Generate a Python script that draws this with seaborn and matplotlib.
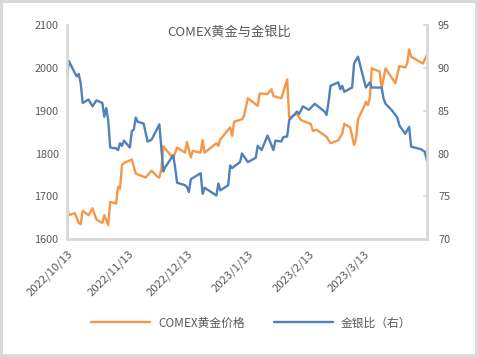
import pandas as pd
import numpy as np
import matplotlib
matplotlib.use("Agg")
import matplotlib.pyplot as plt
import seaborn as sns

# COMEX gold price (left axis)
gold_dates = ["2022-10-13", "2022-10-14", "2022-10-17", "2022-10-19", "2022-10-20", "2022-10-21",
              "2022-10-24", "2022-10-26", "2022-10-28", "2022-10-31", "2022-11-01", "2022-11-03",
              "2022-11-04", "2022-11-07", "2022-11-08", "2022-11-09", "2022-11-10", "2022-11-11",
              "2022-11-15", "2022-11-17", "2022-11-22", "2022-11-25", "2022-11-28", "2022-11-29",
              "2022-11-30", "2022-12-01", "2022-12-06", "2022-12-08", "2022-12-12", "2022-12-13",
              "2022-12-15", "2022-12-16", "2022-12-20", "2022-12-21", "2022-12-22", "2022-12-28",
              "2022-12-29", "2022-12-30", "2023-01-04", "2023-01-05", "2023-01-06", "2023-01-10",
              "2023-01-11", "2023-01-13", "2023-01-18", "2023-01-19", "2023-01-23", "2023-01-25",
              "2023-01-26", "2023-01-30", "2023-02-02", "2023-02-03", "2023-02-07", "2023-02-09",
              "2023-02-14", "2023-02-15", "2023-02-17", "2023-02-22", "2023-02-24", "2023-02-28",
              "2023-03-02", "2023-03-03", "2023-03-06", "2023-03-08", "2023-03-09", "2023-03-10",
              "2023-03-13", "2023-03-14", "2023-03-15", "2023-03-16", "2023-03-17", "2023-03-21",
              "2023-03-22", "2023-03-24", "2023-03-29", "2023-03-31", "2023-04-03", "2023-04-04",
              "2023-04-05", "2023-04-06", "2023-04-12", "2023-04-14"]
gold_price = [1679, 1656, 1661, 1638, 1635, 1666,
              1656, 1672, 1646, 1638, 1656, 1633,
              1687, 1683, 1722, 1718, 1773, 1778,
              1786, 1753, 1744, 1760, 1746, 1744,
              1762, 1817, 1789, 1814, 1802, 1827,
              1791, 1806, 1802, 1831, 1802, 1824,
              1818, 1833, 1861, 1841, 1874, 1880,
              1887, 1929, 1911, 1940, 1939, 1950,
              1934, 1929, 1973, 1884, 1892, 1878,
              1869, 1853, 1855, 1839, 1824, 1831,
              1847, 1869, 1861, 1820, 1835, 1880,
              1909, 1921, 1913, 1929, 1999, 1991,
              1952, 1999, 1964, 2004, 2001, 2010,
              2043, 2026, 2010, 2030]

# gold/silver ratio (right axis)
ratio_dates = ["2022-10-13", "2022-10-14", "2022-10-17", "2022-10-18", "2022-10-19", "2022-10-20",
               "2022-10-21", "2022-10-24", "2022-10-26", "2022-10-28", "2022-10-31", "2022-11-01",
               "2022-11-02", "2022-11-03", "2022-11-04", "2022-11-07", "2022-11-08", "2022-11-09",
               "2022-11-10", "2022-11-11", "2022-11-14", "2022-11-15", "2022-11-16", "2022-11-17",
               "2022-11-18", "2022-11-21", "2022-11-23", "2022-11-25", "2022-11-29", "2022-12-01",
               "2022-12-02", "2022-12-06", "2022-12-07", "2022-12-08", "2022-12-12", "2022-12-13",
               "2022-12-14", "2022-12-15", "2022-12-20", "2022-12-21", "2022-12-22", "2022-12-28",
               "2022-12-29", "2022-12-30", "2023-01-03", "2023-01-04", "2023-01-05", "2023-01-09",
               "2023-01-10", "2023-01-13", "2023-01-17", "2023-01-18", "2023-01-20", "2023-01-23",
               "2023-01-26", "2023-01-27", "2023-01-30", "2023-01-31", "2023-02-02", "2023-02-03",
               "2023-02-07", "2023-02-08", "2023-02-10", "2023-02-13", "2023-02-16", "2023-02-21",
               "2023-02-22", "2023-02-23", "2023-02-24", "2023-02-28", "2023-03-01", "2023-03-02",
               "2023-03-03", "2023-03-07", "2023-03-08", "2023-03-10", "2023-03-14", "2023-03-16",
               "2023-03-17", "2023-03-22", "2023-03-23", "2023-03-24", "2023-03-27", "2023-03-30",
               "2023-03-31", "2023-04-03", "2023-04-05", "2023-04-06", "2023-04-11", "2023-04-13",
               "2023-04-14"]
gold_silver_ratio = [88.8, 90.8, 89.4, 89.0, 89.3, 88.2,
                     85.9, 86.3, 85.5, 86.2, 85.9, 84.3,
                     85.3, 83.9, 80.7, 80.6, 80.4, 81.2,
                     80.9, 81.5, 80.7, 82.6, 82.8, 84.2,
                     83.7, 83.5, 81.4, 81.6, 83.4, 77.9,
                     78.4, 79.8, 78.4, 76.6, 76.3, 76.1,
                     75.5, 77.0, 77.7, 75.3, 76.0, 75.1,
                     76.5, 75.7, 76.3, 78.6, 78.3, 79.0,
                     80.0, 79.0, 79.5, 80.9, 80.4, 82.1,
                     80.4, 81.5, 81.4, 81.9, 82.0, 83.9,
                     84.9, 84.6, 85.5, 85.1, 85.8, 84.9,
                     84.5, 86.0, 87.9, 88.3, 87.5, 87.9,
                     87.2, 87.7, 90.5, 91.3, 87.7, 88.3,
                     87.7, 87.7, 86.4, 85.8, 85.1, 84.2,
                     83.3, 82.3, 83.1, 80.8, 80.5, 80.2,
                     79.2]

tick_dates = ["2022-10-13", "2022-11-13", "2022-12-13", "2023-01-13", "2023-02-13", "2023-03-13"]
tick_labels = ["2022/10/13", "2022/11/13", "2022/12/13", "2023/1/13", "2023/2/13", "2023/3/13"]

gold_df = pd.DataFrame({"date": pd.to_datetime(gold_dates), "price": gold_price})
ratio_df = pd.DataFrame({"date": pd.to_datetime(ratio_dates), "ratio": gold_silver_ratio})

sns.set_theme(style="white")
plt.rcParams["font.family"] = ["Noto Sans CJK SC", "DejaVu Sans"]

orange = "#F79646"
blue = "#4F81BD"
grey_txt = "#595959"
grey_line = "#D9D9D9"

fig = plt.figure(figsize=(4.78, 3.57), dpi=100)
fig.patch.set_edgecolor(grey_line)
fig.patch.set_linewidth(4)
ax = fig.add_axes([0.140, 0.330, 0.753, 0.600])
ax2 = ax.twinx()

sns.lineplot(data=gold_df, x="date", y="price", ax=ax, color=orange, linewidth=1.7,
             label="COMEX黄金价格", legend=False)
sns.lineplot(data=ratio_df, x="date", y="ratio", ax=ax2, color=blue, linewidth=1.7,
             label="金银比（右）", legend=False)

ax.set_xlim(pd.Timestamp("2022-10-13"), pd.Timestamp("2023-04-14"))
ax.set_ylim(1600, 2100)
ax2.set_ylim(70, 95)
ax.set_yticks(range(1600, 2101, 100))
ax2.set_yticks(range(70, 96, 5))
ax.set_xticks(pd.to_datetime(tick_dates))
ax.set_xticklabels(tick_labels, rotation=45, ha="right", rotation_mode="anchor")
ax.set_xlabel("")
ax.set_ylabel("")
ax2.set_ylabel("")

for a in (ax, ax2):
    a.spines["top"].set_visible(False)
    for side in ("left", "right", "bottom"):
        a.spines[side].set_color(grey_line)
        a.spines[side].set_linewidth(1.8)
    a.tick_params(labelsize=7.8, colors=grey_txt, length=0, pad=6)
ax.tick_params(axis="x", length=3, color=grey_line, width=1.2, pad=4, labelsize=8.2)
ax2.tick_params(axis="y", length=3, color=grey_line, width=1.2, direction="in", pad=8)

fig.text(0.479, 0.910, "COMEX黄金与金银比", ha="center", va="center", fontsize=9.5, color=grey_txt)

h1, l1 = ax.get_legend_handles_labels()
h2, l2 = ax2.get_legend_handles_labels()
fig.legend(h1 + h2, l1 + l2, loc="center", bbox_to_anchor=(0.526, 0.095), ncol=2,
           frameon=False, fontsize=8.5, handlelength=5.0, handletextpad=0.7,
           columnspacing=2.4, labelcolor=grey_txt)

fig.savefig("out.png", dpi=100)
